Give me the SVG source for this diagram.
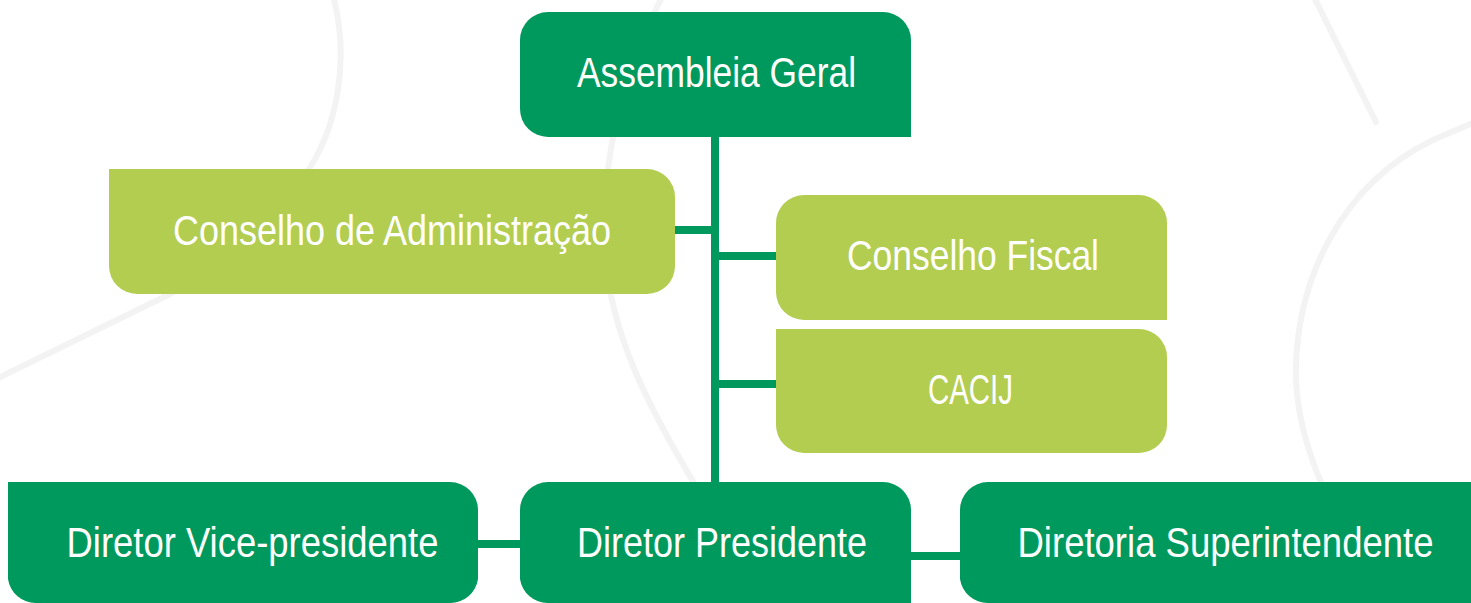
<svg xmlns="http://www.w3.org/2000/svg" width="1471" height="603" viewBox="0 0 1471 603">
<style>
.bg{fill:none;stroke:#F3F3F3;stroke-width:6;stroke-linecap:round}
.dark{fill:#00995D}
.light{fill:#B3CD50}
.conn{stroke:#00995D;stroke-width:8;fill:none}
.lbl{font-family:"Liberation Sans Narrow","Liberation Sans",sans-serif;font-size:42px;fill:#FFFFFF;text-anchor:middle}
</style>
<rect width="1471" height="603" fill="#FFFFFF"/>
<g id="background">
<path class="bg" d="M333,-5 C350,60 338,130 303,178 C265,225 225,262 170,294 L-10,382"/>
<path class="bg" d="M663,-5 C622,75 602,160 604,240 C607,330 650,410 697,488"/>
<path class="bg" d="M1480,120 L1433,140 C1340,185 1298,280 1296,367 C1295,405 1305,445 1322,485"/>
<path class="bg" d="M1313,-5 L1376,122"/>
</g>
<g id="connectors">
<line class="conn" x1="715" y1="136" x2="715" y2="483"/>
<line class="conn" x1="674" y1="230" x2="715" y2="230"/>
<line class="conn" x1="715" y1="256" x2="777" y2="256"/>
<line class="conn" x1="715" y1="384" x2="777" y2="384"/>
<line class="conn" x1="477" y1="544" x2="521" y2="544"/>
<line class="conn" x1="910" y1="556" x2="961" y2="556"/>
</g>
<g id="assembleia-geral">
<path class="dark" d="M548,12 H883 A28,28 0 0 1 911,40 V137 H548 A28,28 0 0 1 520,109 V40 A28,28 0 0 1 548,12 Z"/>
<text class="lbl" x="716.5" y="87" textLength="279" lengthAdjust="spacingAndGlyphs">Assembleia Geral</text>
</g>
<g id="conselho-administracao">
<path class="light" d="M109,169 H647 A28,28 0 0 1 675,197 V266 A28,28 0 0 1 647,294 H137 A28,28 0 0 1 109,266 Z"/>
<text class="lbl" x="392" y="245" textLength="438" lengthAdjust="spacingAndGlyphs">Conselho de Administração</text>
</g>
<g id="conselho-fiscal">
<path class="light" d="M804,195 H1139 A28,28 0 0 1 1167,223 V320 H804 A28,28 0 0 1 776,292 V223 A28,28 0 0 1 804,195 Z"/>
<text class="lbl" x="973" y="270" textLength="252" lengthAdjust="spacingAndGlyphs">Conselho Fiscal</text>
</g>
<g id="cacij">
<path class="light" d="M776,329 H1139 A28,28 0 0 1 1167,357 V425 A28,28 0 0 1 1139,453 H804 A28,28 0 0 1 776,425 Z"/>
<text class="lbl" x="970.5" y="404" textLength="85" lengthAdjust="spacingAndGlyphs">CACIJ</text>
</g>
<g id="diretor-vice-presidente">
<path class="dark" d="M8,482 H450 A28,28 0 0 1 478,510 V579 A28,28 0 0 1 450,603 H36 A28,28 0 0 1 8,579 Z"/>
<text class="lbl" x="252.5" y="557" textLength="372" lengthAdjust="spacingAndGlyphs">Diretor Vice-presidente</text>
</g>
<g id="diretor-presidente">
<path class="dark" d="M548,482 H883 A28,28 0 0 1 911,510 V603 H548 A28,28 0 0 1 520,579 V510 A28,28 0 0 1 548,482 Z"/>
<text class="lbl" x="722" y="557" textLength="290" lengthAdjust="spacingAndGlyphs">Diretor Presidente</text>
</g>
<g id="diretoria-superintendente">
<path class="dark" d="M988,482 H1471 V603 H988 A28,28 0 0 1 960,579 V510 A28,28 0 0 1 988,482 Z"/>
<text class="lbl" x="1225.5" y="557" textLength="416" lengthAdjust="spacingAndGlyphs">Diretoria Superintendente</text>
</g>
</svg>
